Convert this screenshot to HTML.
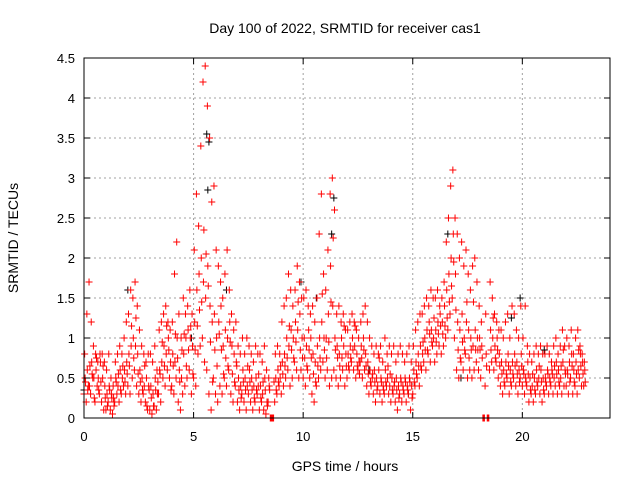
<!DOCTYPE html>
<html><head><meta charset="utf-8"><style>
body{margin:0;background:#fff}
svg{display:block;font-family:"Liberation Sans",sans-serif}
</style></head><body>
<svg id="chart" width="640" height="480" viewBox="0 0 640 480">
<rect width="640" height="480" fill="#fff"/>
<text x="345" y="33" font-size="14" text-anchor="middle">Day 100 of 2022, SRMTID for receiver cas1</text>
<text x="18" y="238" font-size="14" text-anchor="middle" transform="rotate(-90 18 238)">SRMTID / TECUs</text>
<text x="345" y="471" font-size="14" text-anchor="middle">GPS time / hours</text>
<g id="grid"></g>
<g id="marks"></g>
<rect x="84" y="58" width="526" height="360" fill="none" stroke="#000" stroke-width="1"/>
<g id="ticks"></g>
</svg>
<script>
const xTicks = [0,5,10,15,20];
const yTicks = [0,0.5,1,1.5,2,2.5,3,3.5,4,4.5];
const yTickLabels = ["0","0.5","1","1.5","2","2.5","3","3.5","4","4.5"];
const hours = [
0,0.1,0.2,0.3,0.4,0.5,0.6,0.7,0.8,0.9,
1,1.1,1.2,1.3,1.4,1.5,1.6,1.7,1.8,1.9,
2,2.1,2.2,2.3,2.4,2.5,2.6,2.7,2.8,2.9,
3,3.1,3.2,3.3,3.4,3.5,3.6,3.7,3.8,3.9,
4,4.1,4.2,4.3,4.4,4.5,4.6,4.7,4.8,4.9,
5,5.1,5.2,5.3,5.4,5.5,5.6,5.7,5.8,5.9,
6,6.1,6.2,6.3,6.4,6.5,6.6,6.7,6.8,6.9,
7,7.1,7.2,7.3,7.4,7.5,7.6,7.7,7.8,7.9,
8,8.1,8.2,8.3,8.4,8.5,8.6,8.7,8.8,8.9,
9,9.1,9.2,9.3,9.4,9.5,9.6,9.7,9.8,9.9,
10,10.1,10.2,10.3,10.4,10.5,10.6,10.7,10.8,10.9,
11,11.1,11.2,11.3,11.4,11.5,11.6,11.7,11.8,11.9,
12,12.1,12.2,12.3,12.4,12.5,12.6,12.7,12.8,12.9,
13,13.1,13.2,13.3,13.4,13.5,13.6,13.7,13.8,13.9,
14,14.1,14.2,14.3,14.4,14.5,14.6,14.7,14.8,14.9,
15,15.1,15.2,15.3,15.4,15.5,15.6,15.7,15.8,15.9,
16,16.1,16.2,16.3,16.4,16.5,16.6,16.7,16.8,16.9,
17,17.1,17.2,17.3,17.4,17.5,17.6,17.7,17.8,17.9,
18,18.1,18.2,18.3,18.4,18.5,18.6,18.7,18.8,18.9,
19,19.1,19.2,19.3,19.4,19.5,19.6,19.7,19.8,19.9,
20,20.1,20.2,20.3,20.4,20.5,20.6,20.7,20.8,20.9,
21,21.1,21.2,21.3,21.4,21.5,21.6,21.7,21.8,21.9,
22,22.1,22.2,22.3,22.4,22.5,22.6,22.7,22.8];
const redLow = [
0.3,0.2,0.4,0.3,0.5,0.2,0.4,0.3,0.2,0.1,
0.1,0.2,0.1,0.05,0.2,0.3,0.2,0.3,0.4,0.3,
0.4,0.3,0.5,0.6,0.4,0.3,0.2,0.3,0.2,0.1,
0.1,0.05,0.15,0.1,0.3,0.2,0.5,0.4,0.6,0.5,
0.4,0.3,0.5,0.2,0.1,0.3,0.4,0.5,0.6,0.3,
0.5,0.4,0.8,0.9,1.0,0.7,0.6,0.3,0.1,0.5,
0.3,0.2,0.4,0.3,0.5,0.4,0.6,0.3,0.2,0.4,
0.2,0.1,0.3,0.2,0.1,0.3,0.2,0.1,0.2,0.3,
0.1,0.2,0.1,0.05,0.2,0,0,0.2,0.3,0.4,
0.3,0.4,0.5,0.6,0.4,0.5,0.7,0.6,0.5,0.6,
0.5,0.4,0.6,0.5,0.3,0.2,0.4,0.5,0.6,0.7,
0.5,0.6,0.4,0.5,0.6,0.5,0.4,0.5,0.6,0.4,
0.5,0.6,0.7,0.6,0.5,0.6,0.7,0.5,0.6,0.4,
0.3,0.4,0.3,0.2,0.4,0.3,0.2,0.3,0.4,0.3,
0.2,0.3,0.2,0.1,0.3,0.2,0.3,0.2,0.3,0.1,
0.3,0.4,0.5,0.4,0.6,0.7,0.6,0.8,0.7,0.9,
0.7,0.8,0.9,0.8,0.9,1.0,1.1,1.3,1.5,1.0,
0.6,0.5,0.7,0.6,0.8,0.5,0.6,0.5,0.6,0.7,
0.6,0.5,0,0.4,0,0.6,0.7,0.6,0.7,0.5,
0.4,0.3,0.4,0.5,0.3,0.4,0.5,0.4,0.3,0.5,
0.4,0.3,0.4,0.2,0.3,0.2,0.3,0.4,0.3,0.2,
0.3,0.4,0.3,0.4,0.3,0.4,0.3,0.4,0.3,0.4,
0.4,0.3,0.5,0.3,0.4,0.3,0.5,0.4,0.4];
const redMid = [
0.5,0.6,0.4,0.7,0.5,0.6,0.5,0.7,0.5,0.4,
0.3,0.4,0.3,0.25,0.5,0.4,0.6,0.5,0.6,0.7,
0.8,0.9,1.0,0.9,0.8,0.6,0.5,0.4,0.5,0.4,
0.4,0.3,0.5,0.3,0.6,0.7,0.9,0.8,1.0,0.7,
0.8,0.7,1.0,0.6,0.5,0.8,1.0,1.1,1.0,0.9,
1.2,1.6,1.8,2.0,1.7,1.5,1.9,1.4,1.2,1.3,
1.0,1.2,1.4,0.9,1.1,1.0,1.2,0.9,0.8,0.7,
0.5,0.4,0.6,0.5,0.4,0.6,0.5,0.4,0.5,0.4,
0.4,0.3,0.5,0.2,0.4,0,0,0.5,0.6,0.5,
0.7,0.8,1.0,0.9,1.1,1.0,1.2,1.1,1.3,1.0,
1.0,0.9,1.1,1.0,0.8,0.7,0.9,1.0,1.2,1.0,
1.0,1.3,1.9,1.4,1.0,0.9,0.8,1.0,0.9,0.8,
0.8,0.9,1.0,0.9,0.8,0.7,0.9,1.0,0.8,0.7,
0.6,0.5,0.6,0.5,0.6,0.5,0.4,0.6,0.5,0.4,
0.5,0.4,0.5,0.4,0.5,0.4,0.5,0.4,0.5,0.4,
0.6,0.7,0.8,0.9,0.8,1.0,1.1,1.2,1.1,1.0,
1.1,1.2,1.3,1.2,1.4,1.6,1.8,2.0,2.3,1.8,
1.2,1.1,1.3,1.0,1.2,1.1,1.0,0.9,1.1,1.0,
1.0,0.9,0,0.8,0,1.1,1.0,0.9,1.0,0.8,
0.7,0.6,0.7,0.8,0.6,0.7,0.8,0.7,0.6,0.8,
0.6,0.5,0.7,0.5,0.4,0.5,0.6,0.5,0.6,0.5,
0.5,0.6,0.5,0.6,0.5,0.7,0.6,0.5,0.7,0.6,
0.6,0.7,0.8,0.6,0.7,0.6,0.8,0.7,0.6];
const redHigh = [
0.8,1.3,1.7,1.2,0.9,0.8,0.7,0.8,0.8,0.7,
0.6,0.8,0.5,0.4,0.7,0.8,0.9,0.8,1.0,1.2,
1.3,1.6,1.5,1.7,1.4,1.1,0.9,0.8,0.7,0.8,
0.8,0.7,0.9,0.6,1.1,1.2,1.3,1.4,1.2,1.1,
1.2,1.8,2.2,1.3,1.0,1.5,1.3,1.4,1.6,1.3,
2.1,2.8,2.4,3.4,4.2,4.4,3.9,3.5,2.7,2.9,
2.1,1.9,1.7,1.5,1.8,2.1,1.6,1.3,1.1,1.2,
0.9,0.8,1.0,0.8,1.0,0.9,0.8,0.7,0.9,0.8,
0.8,0.7,0.9,0.6,0.5,0,0,0.8,0.9,0.8,
1.2,1.4,1.5,1.8,1.6,1.4,1.6,1.9,1.7,1.5,
1.5,1.6,1.4,1.3,1.4,1.2,1.5,2.3,2.8,1.8,
1.6,2.1,2.8,3.0,2.6,1.3,1.4,1.2,1.3,1.1,
1.1,1.2,1.3,1.2,1.1,1.0,1.2,1.3,1.4,1.2,
1.0,0.9,0.8,0.9,0.8,0.9,0.7,1.0,0.8,0.9,
0.8,0.9,0.7,0.8,0.9,0.8,0.7,0.8,0.9,0.7,
0.9,1.1,1.2,1.3,1.3,1.4,1.5,1.4,1.6,1.5,
1.5,1.6,1.4,1.5,1.7,2.2,2.5,2.9,3.1,2.5,
2.3,2.0,2.2,1.9,2.1,1.8,1.6,1.9,2.0,1.7,
1.4,1.2,0,1.3,0,1.7,1.5,1.3,1.2,1.1,
1.1,1.0,1.2,1.3,1.0,1.4,1.3,1.1,1.0,1.4,
1.0,1.4,0.9,0.8,0.7,0.8,0.9,0.8,0.9,0.8,
0.8,0.9,0.8,0.7,0.9,1.0,0.8,0.9,1.1,0.9,
1.0,0.9,1.1,0.8,1.0,1.1,0.9,0.8,0.7];
const redExtra = [
0.45,0.35,0.65,0.55,0.25,0.75,0.35,0.45,0.65,0.25,
0.15,0.35,0.25,0.15,0.45,0.55,0.35,0.65,0.45,0.55,
0.65,1.15,0.75,1.25,0.55,0.45,0.35,0.65,0.15,0.35,
0.25,0.15,0.35,0.45,0.55,0.95,0.65,1.15,0.85,0.35,
0.65,1.05,0.75,0.45,0.85,1.05,0.65,0.85,1.15,0.55,
0.85,1.15,1.35,1.45,2.35,2.05,1.65,0.95,0.45,0.85,
0.65,1.05,0.85,0.55,0.75,0.65,0.95,0.55,0.45,0.65,
0.35,0.25,0.45,0.35,0.65,0.45,0.35,0.25,0.35,0.55,
0.25,0.45,0.35,0.15,0.35,0,0.45,0.35,0.45,0.65,
0.55,0.65,0.75,1.15,0.85,0.75,0.95,1.45,0.85,0.75,
0.75,0.65,0.85,0.75,0.55,0.45,0.65,0.75,1.55,0.85,
0.75,0.95,1.45,2.25,0.85,0.75,0.65,0.75,1.15,0.65,
0.65,0.75,0.85,1.15,0.65,0.55,0.75,0.85,0.65,0.55,
0.45,0.55,0.45,0.35,0.75,0.45,0.35,0.45,0.65,0.55,
0.35,0.45,0.35,0.25,0.45,0.35,0.45,0.35,0.45,0.25,
0.45,0.55,0.65,0.65,0.95,0.85,0.85,1.05,0.95,1.25,
0.95,1.05,1.15,1.05,1.15,1.25,1.45,1.65,1.95,1.35,
0.85,0.75,0.95,0.85,1.45,0.75,0.85,1.45,0.85,0.85,
0.85,0.75,0,0.65,0,0.85,1.25,0.75,0.85,0.65,
0.55,0.45,0.55,0.65,0.45,0.55,0.65,0.55,0.45,0.65,
0.55,0.45,0.55,0.35,0.55,0.35,0.45,0.65,0.45,0.35,
0.45,0.55,0.45,0.55,0.65,0.55,0.45,0.65,0.85,0.55,
0.55,0.45,0.65,0.45,0.55,0.85,0.65,0.55,0.45];
const blackHours = [0.0,2.0,4.9,5.6,5.65,5.7,6.5,9.9,10.6,11.3,11.4,13.0,14.8,16.6,17.2,19.5,19.9,21.0];
const blackVals = [0.35,1.6,1.0,3.55,2.85,3.45,1.6,1.7,1.5,2.3,2.75,0.6,0.3,2.3,0.5,1.25,1.5,0.85];

const NS = "http://www.w3.org/2000/svg";
const X0 = 84, X1 = 610, Y0 = 418, Y1 = 58, XMAX = 24, YMAX = 4.5;
function xs(h){ return X0 + (h / XMAX) * (X1 - X0); }
function ys(v){ return Y0 - (v / YMAX) * (Y0 - Y1); }
const grid = document.getElementById('grid');
const ticks = document.getElementById('ticks');
const marks = document.getElementById('marks');
function mk(tag, attrs, parent){ const e = document.createElementNS(NS, tag); for (const k in attrs) e.setAttribute(k, attrs[k]); parent.appendChild(e); return e; }
xTicks.forEach(t => {
  const x = xs(t);
  if (t > 0) {
    const g = mk('line', {x1:x, x2:x, y1:Y1, y2:Y0, stroke:'#a0a0a0', 'stroke-dasharray':'2,3'}, grid);
    
    
  }
  mk('line', {x1:x, x2:x, y1:Y0, y2:Y0-6, stroke:'#000'}, ticks);
  mk('line', {x1:x, x2:x, y1:Y1, y2:Y1+6, stroke:'#000'}, ticks);
  const l = mk('text', {x:x, y:Y0+23, 'font-size':13, 'text-anchor':'middle'}, ticks);
  l.textContent = String(t);
  
  
});
yTicks.forEach((t, i) => {
  const y = ys(t);
  if (t > 0 && t < YMAX) {
    const g = mk('line', {x1:X0, x2:X1, y1:y, y2:y, stroke:'#a0a0a0', 'stroke-dasharray':'2,3'}, grid);
    
    
  }
  mk('line', {x1:X0, x2:X0+6, y1:y, y2:y, stroke:'#000'}, ticks);
  mk('line', {x1:X1, x2:X1-6, y1:y, y2:y, stroke:'#000'}, ticks);
  const l = mk('text', {x:X0-9, y:y+5, 'font-size':13, 'text-anchor':'end'}, ticks);
  l.textContent = yTickLabels[i];
  
  
});
function plus(h, v, color){
  const x = xs(h), y = ys(v);
  const p = mk('path', {d:`M${x-3.5} ${y}H${x+3.5}M${x} ${y-3.5}V${y+3.5}`, stroke:color, 'stroke-width':1, fill:'none'}, marks);
  
  
}
blackHours.forEach((h, i) => plus(h, blackVals[i], '#000'));
hours.forEach((h, i) => {
  plus(h, redLow[i], '#f00');
  plus(h + 0.05, redMid[i], '#f00');
  plus(h + 0.03, redHigh[i], '#f00');
  plus(h + 0.07, redExtra[i], '#f00');
});
</script>
</body></html>
